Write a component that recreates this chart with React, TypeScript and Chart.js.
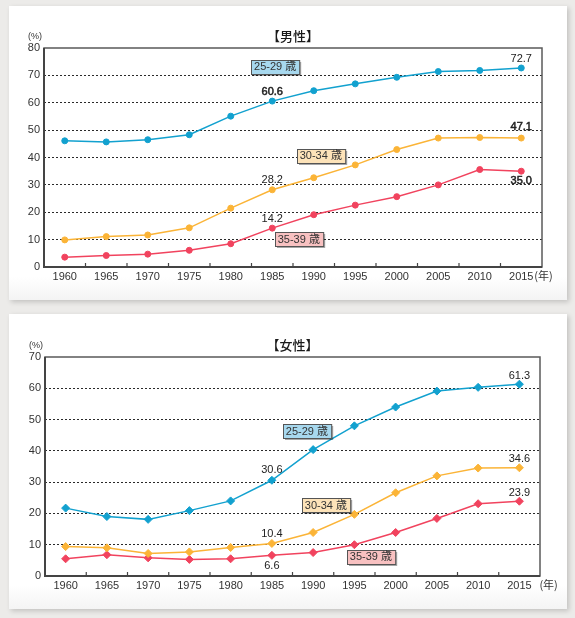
import React, { useEffect, useRef } from "react";
import { Chart, registerables } from "chart.js";

Chart.register(...registerables);

// ---------- data ----------
const years = ["1960", "1965", "1970", "1975", "1980", "1985", "1990", "1995", "2000", "2005", "2010", "2015"];
const seriesNames = ["25-29 歳", "30-34 歳", "35-39 歳"];

const male2529 = [46.1, 45.7, 46.5, 48.3, 55.1, 60.6, 64.4, 66.9, 69.3, 71.4, 71.8, 72.7];
const male3034 = [9.9, 11.1, 11.7, 14.3, 21.5, 28.2, 32.6, 37.3, 42.9, 47.1, 47.3, 47.1];
const male3539 = [3.6, 4.2, 4.7, 6.1, 8.5, 14.2, 19.1, 22.6, 25.7, 30.0, 35.6, 35.0];

const female2529 = [21.7, 19.0, 18.1, 20.9, 24.0, 30.6, 40.4, 48.0, 54.0, 59.1, 60.3, 61.3];
const female3034 = [9.4, 9.0, 7.2, 7.7, 9.1, 10.4, 13.9, 19.7, 26.6, 32.0, 34.5, 34.6];
const female3539 = [5.5, 6.8, 5.8, 5.3, 5.5, 6.6, 7.5, 10.0, 13.9, 18.4, 23.1, 23.9];

const maleMax = 80;
const femaleMax = 70;

// ---------- styles ----------
const FONT = "'Liberation Sans', Arial, 'Noto Sans CJK JP', sans-serif";
const CJK = "'Noto Sans CJK JP', 'Liberation Sans', sans-serif";
const lineColors = ["#12a1cf", "#fbb437", "#f1435e"];
const boxFills = ["#a7d8ee", "#fde3b9", "#f8c1c1"];

type ValLabel = { ds: number; i: number; dy: number; bold?: boolean };
type BoxLabel = { ds: number; x: number; y: number };

type PanelCfg = {
  title: string;
  max: number;
  data: number[][];
  pointStyle: string;
  pointRadius: number;
  valLabels: ValLabel[];
  boxes: BoxLabel[];
  yearGap: number;
  width: number;
  height: number;
  pad: { top: number; right: number };
  yWidth: number;
  xHeight: number;
};

function makeDecor(cfg: PanelCfg) {
  return {
    id: "decor",
    afterDraw(chart: any) {
      const ctx: CanvasRenderingContext2D = chart.ctx;
      const { left, right, top, bottom } = chart.chartArea;
      const xs = chart.scales.x;
      const ys = chart.scales.y;
      ctx.save();

      // frame
      ctx.strokeStyle = "#5a5a5a";
      ctx.lineWidth = 1.5;
      ctx.strokeRect(left, top, right - left, bottom - top);
      ctx.strokeStyle = "#444";
      ctx.lineWidth = 2;
      ctx.beginPath();
      ctx.moveTo(left, top);
      ctx.lineTo(left, bottom);
      ctx.lineTo(right, bottom);
      ctx.stroke();

      // inner ticks on x axis (at category boundaries)
      ctx.lineWidth = 1.2;
      for (let k = 0; k < years.length - 1; k++) {
        const x = (xs.getPixelForValue(k) + xs.getPixelForValue(k + 1)) / 2;
        ctx.beginPath();
        ctx.moveTo(x, bottom);
        ctx.lineTo(x, bottom - 4);
        ctx.stroke();
      }

      // title
      ctx.fillStyle = "#1a1a1a";
      ctx.font = `500 13px ${CJK}`;
      ctx.textAlign = "center";
      ctx.textBaseline = "middle";
      ctx.fillText(cfg.title, (left + right) / 2, top - 11.5);

      // (%)
      ctx.fillStyle = "#333";
      ctx.font = `9px ${FONT}`;
      ctx.fillText("(%)", left - 9, top - 11);

      // (年)
      ctx.font = `11px ${CJK}`;
      ctx.textAlign = "left";
      ctx.fillText("(年)", xs.getPixelForValue(years.length - 1) + cfg.yearGap, bottom + 8.5);

      // value labels
      ctx.textAlign = "center";
      for (const v of cfg.valLabels) {
        const val = cfg.data[v.ds][v.i];
        const px = xs.getPixelForValue(v.i);
        const py = ys.getPixelForValue(val) + v.dy;
        ctx.font = `11px ${FONT}`;
        ctx.fillStyle = "#222";
        ctx.fillText(val.toFixed(1), px, py);
        if (v.bold) {
          ctx.strokeStyle = "#222";
          ctx.lineWidth = 0.5;
          ctx.strokeText(val.toFixed(1), px, py);
        }
      }

      // series name boxes
      ctx.font = `11px ${FONT}`;
      for (const b of cfg.boxes) {
        const text = seriesNames[b.ds];
        const cx = xs.getPixelForValue(b.x);
        const cy = ys.getPixelForValue(b.y);
        const w = ctx.measureText(text).width + 6;
        const h = 14;
        const x0 = Math.round(cx - w / 2) + 0.5;
        const y0 = Math.round(cy - h / 2) + 0.5;
        ctx.fillStyle = "rgba(0,0,0,0.35)";
        ctx.fillRect(x0 + 1.5, y0 + 1.5, w, h);
        ctx.fillStyle = boxFills[b.ds];
        ctx.fillRect(x0, y0, w, h);
        ctx.strokeStyle = "#555";
        ctx.lineWidth = 1;
        ctx.strokeRect(x0, y0, w, h);
        ctx.fillStyle = "#333";
        ctx.textAlign = "center";
        ctx.fillText(text, cx, cy + 0.5);
      }
      ctx.restore();
    },
  };
}

function Panel({ cfg }: { cfg: PanelCfg }) {
  const ref = useRef<HTMLCanvasElement | null>(null);
  useEffect(() => {
    if (!ref.current) return;
    const chart = new Chart(ref.current, {
      type: "line",
      data: {
        labels: years,
        datasets: cfg.data.map((d, k) => ({
          label: seriesNames[k],
          data: d,
          borderColor: lineColors[k],
          backgroundColor: lineColors[k],
          borderWidth: 1.5,
          pointStyle: cfg.pointStyle as any,
          pointRadius: cfg.pointRadius,
          pointBorderWidth: 1,
          pointBorderColor: lineColors[k],
          pointBackgroundColor: lineColors[k],
          tension: 0,
          clip: false as any,
        })),
      },
      options: {
        responsive: false,
        animation: false,
        devicePixelRatio: 1,
        layout: { padding: { top: cfg.pad.top, right: cfg.pad.right, left: 0, bottom: 0 } },
        plugins: { legend: { display: false }, title: { display: false }, tooltip: { enabled: false } },
        scales: {
          x: {
            type: "category",
            offset: true,
            grid: { display: false, drawTicks: false },
            border: { display: false },
            ticks: {
              color: "#333",
              font: { family: FONT, size: 11 },
              padding: 3,
              maxRotation: 0,
              autoSkip: false,
            },
            afterFit: (s: any) => {
              s.height = cfg.xHeight;
            },
          },
          y: {
            min: 0,
            max: cfg.max,
            ticks: {
              stepSize: 10,
              color: "#333",
              font: { family: FONT, size: 11 },
              padding: 4,
            },
            grid: {
              drawTicks: false,
              color: (c: any) =>
                c.tick && (c.tick.value === 0 || c.tick.value === cfg.max) ? "rgba(0,0,0,0)" : "#2a2a2a",
              lineWidth: 1,
            },
            border: { display: false, dash: [2, 2] },
            afterFit: (s: any) => {
              s.width = cfg.yWidth;
            },
          },
        },
      },
      plugins: [makeDecor(cfg)],
    });
    return () => chart.destroy();
  }, [cfg]);
  return <canvas ref={ref} width={cfg.width} height={cfg.height} style={{ display: "block" }} />;
}

const maleCfg: PanelCfg = {
  title: "【男性】",
  max: maleMax,
  data: [male2529, male3034, male3539],
  pointStyle: "circle",
  pointRadius: 3,
  valLabels: [
    { ds: 0, i: 5, dy: -9.5, bold: true },
    { ds: 0, i: 11, dy: -9.5 },
    { ds: 1, i: 5, dy: -10 },
    { ds: 1, i: 11, dy: -11, bold: true },
    { ds: 2, i: 5, dy: -9 },
    { ds: 2, i: 11, dy: 9.5, bold: true },
  ],
  boxes: [
    { ds: 0, x: 5.07, y: 73.2 },
    { ds: 1, x: 6.17, y: 40.7 },
    { ds: 2, x: 5.64, y: 10.2 },
  ],
  yearGap: 13,
  width: 558,
  height: 294,
  pad: { top: 42, right: 25 },
  yWidth: 35,
  xHeight: 33,
};

const femaleCfg: PanelCfg = {
  title: "【女性】",
  max: femaleMax,
  data: [female2529, female3034, female3539],
  pointStyle: "rectRot",
  pointRadius: 4,
  valLabels: [
    { ds: 0, i: 5, dy: -10.5 },
    { ds: 0, i: 11, dy: -8.5 },
    { ds: 1, i: 5, dy: -9.5 },
    { ds: 1, i: 11, dy: -8.5 },
    { ds: 2, i: 5, dy: 10.5 },
    { ds: 2, i: 11, dy: -8.5 },
  ],
  boxes: [
    { ds: 0, x: 5.85, y: 46.3 },
    { ds: 1, x: 6.31, y: 22.7 },
    { ds: 2, x: 7.4, y: 6.1 },
  ],
  yearGap: 20,
  width: 558,
  height: 295,
  pad: { top: 43, right: 27 },
  yWidth: 36,
  xHeight: 33,
};

export default function App() {
  useEffect(() => {
    document.body.style.margin = "0";
    document.body.style.background = "#ecebe9";
  }, []);
  const card: React.CSSProperties = {
    position: "absolute",
    left: 9,
    width: 558,
    background: "linear-gradient(to bottom, #ffffff 92%, #f4f4f4 100%)",
    boxShadow: "2px 2px 5px rgba(0,0,0,0.18)",
  };
  return (
    <div style={{ position: "relative", width: 575, height: 618, background: "#ecebe9", overflow: "hidden" }}>
      <div style={{ ...card, top: 6, height: 294 }}>
        <Panel cfg={maleCfg} />
      </div>
      <div style={{ ...card, top: 314, height: 295 }}>
        <Panel cfg={femaleCfg} />
      </div>
    </div>
  );
}
